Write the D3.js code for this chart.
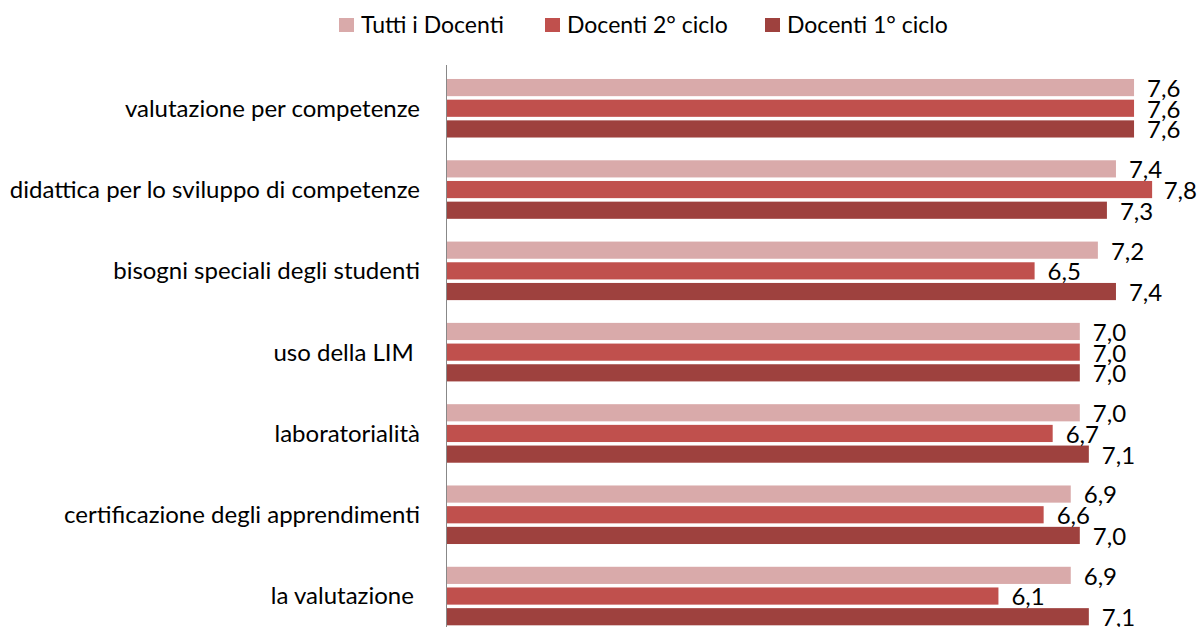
<!DOCTYPE html>
<html>
<head>
<meta charset="utf-8">
<script src="https://cdn.jsdelivr.net/npm/d3@7"></script>
<style>
  body { margin: 0; background: #fff; }
  text { font-family: Lato, "Open Sans", sans-serif; fill: #000; }
</style>
</head>
<body>
<div id="chart"></div>
<script>
var categories = ["valutazione per competenze", "didattica per lo sviluppo di competenze",
    "bisogni speciali degli studenti", "uso della LIM ", "laboratorialità",
    "certificazione degli apprendimenti", "la valutazione "];
var seriesNames = ["Tutti i Docenti", "Docenti 2° ciclo", "Docenti 1° ciclo"];
var tutti = [7.6, 7.4, 7.2, 7.0, 7.0, 6.9, 6.9];
var secondo = [7.6, 7.8, 6.5, 7.0, 6.7, 6.6, 6.1];
var primo = [7.6, 7.3, 7.4, 7.0, 7.1, 7.0, 7.1];
var colors = ["#d9aaaa", "#c0504d", "#9e413e"];

var width = 1198, height = 627;
var values = [tutti, secondo, primo];

var svg = d3.select("#chart").append("svg").attr("width", width).attr("height", height);

var x = d3.scaleLinear().domain([0, 8]).range([447, 447 + 8 * 90.4]);
var y = d3.scaleBand().domain(categories).range([67.6, 636.7]).paddingInner(0.28).paddingOuter(0.14);
var ys = d3.scaleBand().domain(seriesNames).range([0, y.bandwidth()]).paddingInner(0.17);

var rows = [];
categories.forEach(function(c, i) {
    seriesNames.forEach(function(s, j) {
        rows.push({cat: c, series: s, j: j, v: values[j][i]});
    });
});

svg.append("g").selectAll("rect.bar").data(rows).enter().append("rect").attr("class", "bar")
    .attr("x", x(0))
    .attr("y", function(d) { return y(d.cat) + ys(d.series); })
    .attr("width", function(d) { return x(d.v) - x(0); })
    .attr("height", ys.bandwidth())
    .attr("fill", function(d) { return colors[d.j]; });

// vertical category axis, no ticks
svg.append("line").attr("x1", x(0) - 0.5).attr("x2", x(0) - 0.5).attr("y1", 65).attr("y2", height)
    .attr("stroke", "#888").attr("stroke-width", 1);

svg.append("g").selectAll("text.cat").data(categories).enter().append("text").attr("class", "cat")
    .attr("x", 420)
    .attr("y", function(c) { return y(c) + y.bandwidth() / 2; })
    .attr("dy", "0.35em")
    .style("text-anchor", "end")
    .style("white-space", "pre")
    .style("font-size", "24px")
    .text(function(c) { return c; });

var fmt = function(v) { return v.toFixed(1).replace(".", ","); };
svg.append("g").selectAll("text.val").data(rows).enter().append("text").attr("class", "val")
    .attr("y", function(d) { return y(d.cat) + ys(d.series) + ys.bandwidth() / 2 + 1; })
    .attr("dy", "0.35em")
    .style("font-size", "24px")
    .text(function(d) { return fmt(d.v); })
    .attr("x", function(d) {
        var w = this.getComputedTextLength();
        return Math.min(x(d.v) + 13, width - w - 1);
    });

var legendX = [339, 545, 765];
var lg = svg.append("g").selectAll("g.legend").data(seriesNames).enter().append("g").attr("class", "legend")
    .attr("transform", function(s, i) { return "translate(" + legendX[i] + ",18)"; });
lg.append("rect").attr("width", 15).attr("height", 14).attr("fill", function(s, i) { return colors[i]; });
lg.append("text").attr("x", 22).attr("y", 7).attr("dy", "0.35em").style("font-size", "23px")
    .text(function(s) { return s; });
</script>
</body>
</html>
